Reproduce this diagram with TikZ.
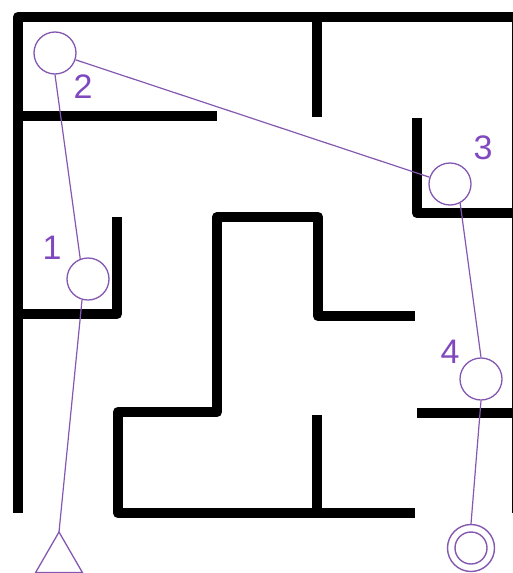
\documentclass[tikz,border=0pt]{standalone}
\usepackage{fontspec}
\setmainfont{Liberation Sans}
\usetikzlibrary{shapes.geometric}
\definecolor{pathcol}{RGB}{132,88,176}
\definecolor{numcol}{RGB}{128,72,190}
\tikzset{
  wall/.style={line width=10.5pt, line join=round, line cap=butt, black},
  stopc/.style={circle, draw=pathcol, line width=1.3pt, minimum size=42pt, inner sep=0pt, fill=white},
  route/.style={draw=pathcol, line width=1.2pt},
  ring/.style={circle, draw=pathcol, line width=1.4pt, inner sep=0pt},
  num/.style={text=numcol, font=\fontsize{34}{34}\selectfont, inner sep=0pt},
}
\begin{document}
\begin{tikzpicture}[x=1pt,y=-1pt]
\useasboundingbox (0,0) rectangle (513,573);
% walls
\draw[wall] (18,513) -- (18,17) -- (517,17) -- (517,513);
\draw[wall] (317,17) -- (317,117);
\draw[wall] (18,116) -- (217,116);
\draw[wall] (417,118) -- (417,213) -- (517,213);
\draw[wall] (117,217) -- (117,314) -- (18,314);
\draw[wall] (415,513) -- (118,513) -- (118,412) -- (217,412) -- (217,217) -- (318,217) -- (318,316) -- (415,316);
\draw[wall] (317,415) -- (317,513);
\draw[wall] (417,413) -- (517,413);
% route nodes
\node[stopc] (c2) at (55,53) {};
\node[stopc] (c1) at (88,279) {};
\node[stopc] (c3) at (450,184) {};
\node[stopc] (c4) at (481,379) {};
\node[ring, minimum size=47pt] (goal) at (471,548) {};
\node[ring, minimum size=32pt] (goalin) at (471,548) {};
\node[regular polygon, regular polygon sides=3, draw=pathcol, line width=1.3pt, minimum size=54pt, inner sep=0pt, outer sep=0pt] (start) at (59,559) {};
% route
\draw[route] (c2.south) -- (c1.111);
\draw[route] (c1.-106) -- (start.corner 1);
\draw[route] (c2) -- (c3);
\draw[route] (c3.-62) -- (c4.north);
\draw[route] (c4.south) -- (goal.north);
% labels
\node[num] (n2) at (83,87) {2};
\node[num] (n1) at (52,248) {1};
\node[num] (n3) at (483,148) {3};
\node[num] (n4) at (450,352) {4};
\end{tikzpicture}
\end{document}
